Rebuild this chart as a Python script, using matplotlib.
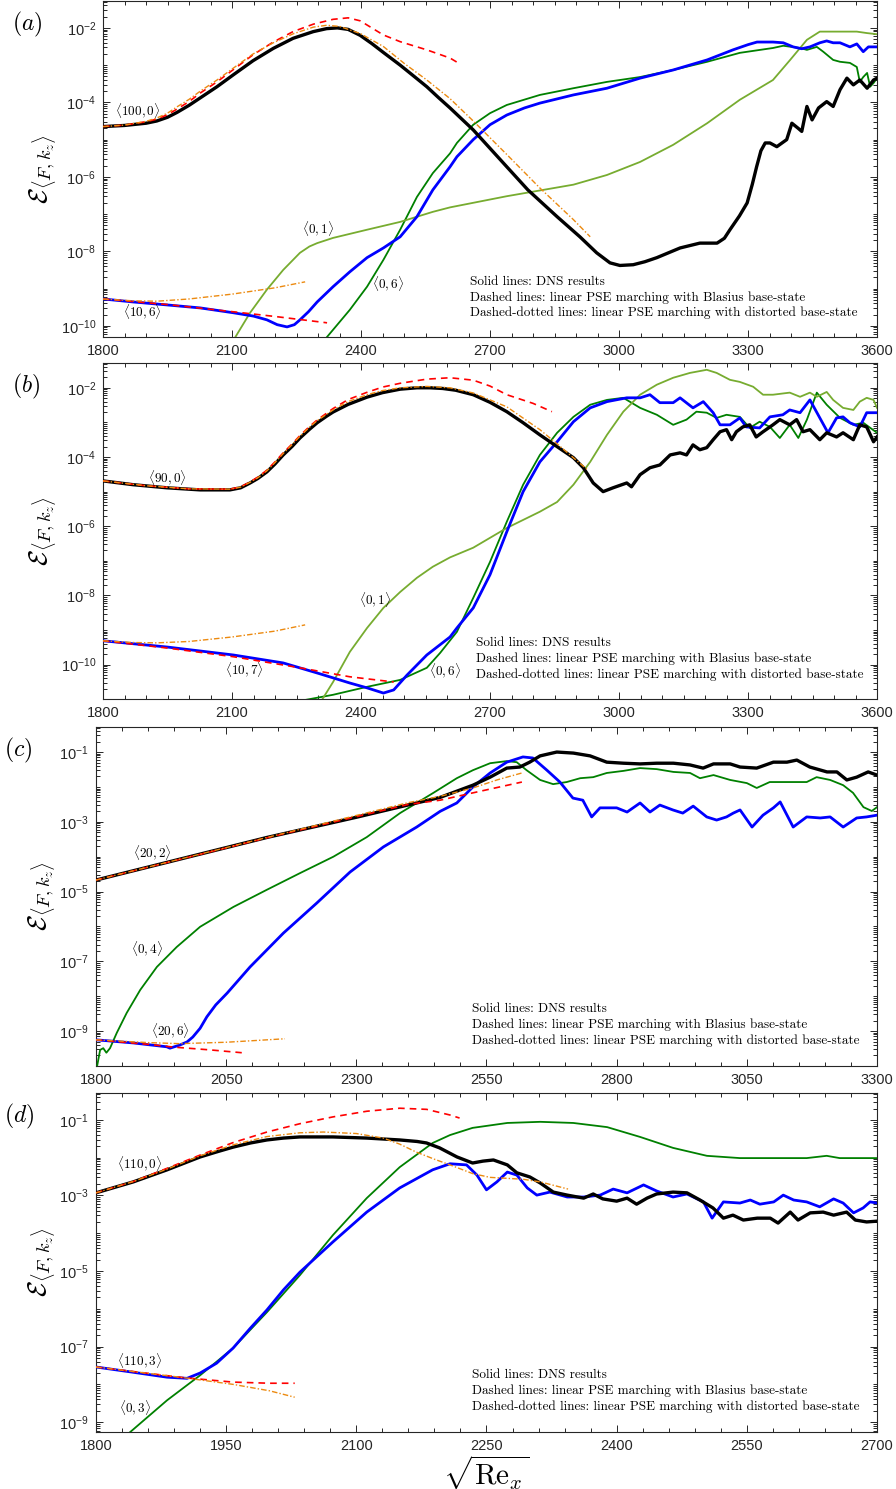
import numpy as np
import matplotlib
matplotlib.use('Agg')
import matplotlib.pyplot as plt
from matplotlib.ticker import FixedLocator, LogLocator, FuncFormatter, MultipleLocator, NullFormatter

plt.rcParams['font.family'] = ['Liberation Sans', 'DejaVu Sans']
plt.rcParams['mathtext.fontset'] = 'cm'

# ---------------- data: x = sqrt(Re_x), values are log10(E) ----------------
# panel (a)
A_K100_X = [1800, 1850, 1900, 1925, 1950, 1972, 2000, 2026, 2065, 2103, 2149, 2196, 2242, 2289, 2320, 2345,
            2370, 2398, 2425, 2452, 2491, 2520, 2553, 2580, 2607, 2661, 2739, 2788, 2856, 2909, 2948, 2979,
            3002, 3033, 3060, 3088, 3142, 3188, 3228, 3245, 3258, 3280, 3298, 3310, 3320, 3330, 3340, 3351,
            3367, 3390, 3402, 3417, 3425, 3437, 3449, 3464, 3483, 3498, 3514, 3530, 3545, 3560, 3577, 3592,
            3600]
A_K100_L = [-4.65, -4.62, -4.56, -4.50, -4.40, -4.27, -4.08, -3.88, -3.58, -3.26, -2.88, -2.55, -2.28, -2.10,
            -2.02, -2.00, -2.04, -2.20, -2.42, -2.66, -3.00, -3.27, -3.58, -3.87, -4.15, -4.74, -5.73, -6.35,
            -7.07, -7.61, -8.04, -8.31, -8.38, -8.36, -8.28, -8.17, -7.91, -7.78, -7.78, -7.65, -7.42, -7.05,
            -6.70, -6.20, -5.73, -5.30, -5.09, -5.09, -5.19, -5.00, -4.56, -4.70, -4.78, -4.11, -4.47, -4.15,
            -3.98, -4.11, -3.66, -3.35, -3.53, -3.40, -3.62, -3.40, -3.35]
A_K100_BL_X = [1800, 1850, 1900, 1925, 1950, 1972, 2000, 2026, 2065, 2103, 2149, 2196, 2242, 2289, 2335,
               2370, 2398, 2425, 2452, 2491, 2553, 2607, 2623]
A_K100_BL_L = [-4.65, -4.61, -4.52, -4.45, -4.33, -4.18, -3.98, -3.75, -3.45, -3.12, -2.72, -2.38, -2.10,
               -1.90, -1.77, -1.73, -1.81, -2.00, -2.19, -2.37, -2.59, -2.81, -2.92]
A_K100_DI_X = [1800, 1850, 1900, 1925, 1950, 1972, 2000, 2026, 2065, 2103, 2149, 2196, 2242, 2289, 2320,
               2350, 2398, 2452, 2500, 2553, 2607, 2661, 2739, 2816, 2894, 2933]
A_K100_DI_L = [-4.65, -4.61, -4.51, -4.42, -4.29, -4.12, -3.92, -3.70, -3.40, -3.08, -2.70, -2.40, -2.16,
               -1.98, -1.93, -1.96, -2.15, -2.50, -2.95, -3.40, -3.90, -4.50, -5.40, -6.30, -7.15, -7.61]
A_K106_X = [1800, 1870, 1949, 2026, 2103, 2150, 2181, 2205, 2228, 2245, 2258, 2278, 2298, 2335, 2374, 2414,
            2452, 2491, 2530, 2567, 2607, 2623, 2661, 2700, 2739, 2780, 2816, 2894, 2972, 3049, 3126, 3205,
            3265, 3300, 3321, 3358, 3382, 3405, 3425, 3444, 3467, 3483, 3498, 3514, 3537, 3553, 3568, 3580,
            3600]
A_K106_L = [-9.28, -9.36, -9.44, -9.52, -9.65, -9.74, -9.84, -9.97, -10.03, -9.97, -9.84, -9.62, -9.36,
            -8.95, -8.55, -8.17, -7.91, -7.61, -7.07, -6.35, -5.73, -5.46, -5.00, -4.60, -4.34, -4.15, -4.02,
            -3.80, -3.62, -3.35, -3.13, -2.86, -2.59, -2.45, -2.38, -2.38, -2.40, -2.51, -2.56, -2.51, -2.40,
            -2.35, -2.40, -2.40, -2.51, -2.43, -2.64, -2.51, -2.51]
A_K106_BL_X = [1800, 1950, 2100, 2200, 2321]
A_K106_BL_L = [-9.28, -9.43, -9.62, -9.75, -9.92]
A_K106_DI_X = [1800, 1870, 1925, 2000, 2100, 2200, 2270]
A_K106_DI_L = [-9.28, -9.33, -9.34, -9.28, -9.15, -8.98, -8.82]
A_K01_X = [2100, 2142, 2181, 2219, 2258, 2280, 2298, 2335, 2414, 2491, 2567, 2607, 2739, 2894, 2972, 3049,
           3126, 3205, 3281, 3358, 3398, 3437, 3467, 3514, 3553, 3577, 3600]
A_K01_L = [-10.45, -9.65, -9.03, -8.50, -8.04, -7.87, -7.78, -7.64, -7.42, -7.21, -6.94, -6.82, -6.52, -6.21,
           -5.95, -5.60, -5.14, -4.56, -3.93, -3.40, -2.86, -2.32, -2.10, -2.10, -2.10, -2.14, -2.17]
A_K06_X = [2310, 2374, 2414, 2452, 2491, 2530, 2567, 2607, 2623, 2661, 2700, 2739, 2816, 2894, 2972, 3049,
           3126, 3205, 3281, 3358, 3382, 3421, 3437, 3460, 3475, 3498, 3514, 3537, 3553, 3560, 3568, 3577,
           3584, 3592, 3600]
A_K06_L = [-10.45, -9.57, -8.95, -8.23, -7.42, -6.54, -5.90, -5.37, -5.09, -4.60, -4.29, -4.07, -3.80, -3.62,
           -3.45, -3.32, -3.13, -2.91, -2.67, -2.54, -2.48, -2.54, -2.59, -2.51, -2.64, -2.86, -2.91, -2.94,
           -3.05, -3.45, -3.32, -3.21, -3.58, -3.48, -3.35]

# panel (b)
B_K90_X = [1800, 1870, 1949, 2026, 2095, 2120, 2142, 2160, 2181, 2200, 2219, 2240, 2258, 2280, 2298, 2320,
           2335, 2370, 2414, 2450, 2491, 2530, 2560, 2590, 2620, 2661, 2700, 2739, 2777, 2816, 2856, 2894,
           2917, 2940, 2963, 2986, 3018, 3029, 3049, 3072, 3095, 3119, 3142, 3157, 3172, 3188, 3204, 3219,
           3235, 3250, 3262, 3273, 3288, 3304, 3319, 3335, 3358, 3374, 3397, 3413, 3428, 3444, 3467, 3483,
           3506, 3521, 3545, 3560, 3576, 3592, 3600]
B_K90_L = [-4.69, -4.80, -4.89, -4.95, -4.95, -4.89, -4.75, -4.62, -4.43, -4.20, -3.94, -3.69, -3.45, -3.20,
           -3.01, -2.82, -2.70, -2.48, -2.27, -2.14, -2.04, -2.00, -2.00, -2.02, -2.07, -2.20, -2.42, -2.69,
           -3.01, -3.36, -3.70, -4.02, -4.31, -4.75, -5.00, -4.89, -4.75, -4.86, -4.51, -4.31, -4.23, -3.94,
           -3.88, -3.94, -3.65, -3.79, -3.73, -3.50, -3.27, -3.21, -3.50, -3.27, -3.13, -3.07, -3.42, -3.27,
           -3.07, -2.92, -3.07, -2.92, -3.27, -3.21, -3.50, -3.30, -3.42, -3.30, -3.50, -3.07, -3.13, -3.56,
           -3.42]
B_K90_BL_X = [1800, 1900, 2000, 2095, 2120, 2142, 2160, 2181, 2200, 2219, 2240, 2258, 2280, 2298, 2335, 2370,
              2414, 2450, 2491, 2553, 2607, 2661, 2700, 2739, 2800, 2844]
B_K90_BL_L = [-4.69, -4.83, -4.92, -4.93, -4.86, -4.72, -4.58, -4.38, -4.14, -3.88, -3.62, -3.38, -3.12,
              -2.93, -2.60, -2.34, -2.13, -1.98, -1.87, -1.75, -1.71, -1.78, -1.95, -2.20, -2.45, -2.69]
B_K90_DI_X = [1800, 1900, 2000, 2095, 2120, 2142, 2160, 2181, 2200, 2219, 2240, 2258, 2280, 2298, 2335, 2370,
              2414, 2450, 2491, 2553, 2607, 2661, 2739, 2816, 2856, 2925]
B_K90_DI_L = [-4.69, -4.83, -4.92, -4.93, -4.87, -4.73, -4.60, -4.40, -4.16, -3.90, -3.64, -3.40, -3.14,
              -2.95, -2.64, -2.40, -2.20, -2.08, -2.00, -1.96, -2.00, -2.15, -2.55, -3.21, -3.62, -4.35]
B_K107_X = [1800, 1949, 2103, 2219, 2298, 2374, 2414, 2452, 2476, 2507, 2553, 2607, 2623, 2661, 2700, 2739,
            2777, 2816, 2856, 2894, 2933, 2972, 3018, 3049, 3072, 3095, 3126, 3142, 3172, 3196, 3219, 3235,
            3258, 3281, 3296, 3327, 3351, 3381, 3397, 3421, 3444, 3467, 3486, 3506, 3521, 3537, 3560, 3576,
            3600]
B_K107_L = [-9.31, -9.49, -9.72, -9.95, -10.24, -10.53, -10.67, -10.82, -10.73, -10.30, -9.72, -9.20, -8.94,
            -8.36, -7.40, -6.16, -5.00, -4.14, -3.56, -2.98, -2.58, -2.40, -2.29, -2.29, -2.20, -2.43, -2.43,
            -2.29, -2.58, -2.40, -2.72, -3.07, -3.07, -2.87, -3.13, -3.16, -2.84, -2.78, -2.64, -2.72, -2.35,
            -2.87, -3.30, -2.87, -2.84, -3.01, -3.13, -2.72, -2.72]
B_K107_BL_X = [1800, 1950, 2103, 2258, 2374, 2476]
B_K107_BL_L = [-9.31, -9.52, -9.77, -10.09, -10.35, -10.50]
B_K107_DI_X = [1800, 1870, 1925, 2000, 2100, 2200, 2270]
B_K107_DI_L = [-9.31, -9.36, -9.37, -9.33, -9.20, -9.03, -8.85]
B_K01_X = [2300, 2335, 2374, 2414, 2452, 2491, 2530, 2567, 2607, 2661, 2739, 2816, 2856, 2894, 2933, 2972,
           3010, 3049, 3088, 3126, 3165, 3204, 3227, 3258, 3281, 3312, 3335, 3358, 3397, 3421, 3444, 3460,
           3483, 3498, 3521, 3545, 3560, 3576, 3592, 3600]
B_K01_L = [-11.2, -10.50, -9.63, -8.94, -8.36, -7.90, -7.49, -7.17, -6.90, -6.62, -6.05, -5.58, -5.30, -4.80,
           -4.14, -3.36, -2.69, -2.20, -1.91, -1.71, -1.57, -1.48, -1.57, -1.77, -1.83, -1.97, -2.20, -2.20,
           -2.14, -2.26, -2.14, -2.26, -2.12, -2.35, -2.58, -2.64, -2.40, -2.29, -2.35, -2.58]
B_K06_X = [2270, 2335, 2414, 2491, 2553, 2584, 2623, 2661, 2700, 2739, 2777, 2816, 2856, 2894, 2933, 2972,
           3010, 3049, 3088, 3126, 3157, 3180, 3204, 3227, 3250, 3281, 3304, 3327, 3351, 3374, 3397, 3417,
           3437, 3460, 3483, 3514, 3545, 3568, 3600]
B_K06_L = [-11.02, -10.87, -10.64, -10.44, -10.09, -9.66, -9.05, -8.07, -7.03, -5.87, -4.80, -3.94, -3.30,
           -2.84, -2.49, -2.35, -2.29, -2.58, -2.78, -3.07, -2.92, -2.69, -2.72, -2.87, -2.78, -2.84, -3.16,
           -2.98, -3.13, -3.45, -3.07, -3.45, -2.92, -2.14, -2.49, -2.87, -3.07, -3.01, -3.30]

# panel (c)
C_K202_X = [1800, 2128, 2300, 2461, 2524, 2557, 2589, 2614, 2633, 2653, 2685, 2717, 2749, 2781, 2813, 2845,
            2877, 2909, 2941, 2966, 2986, 3018, 3037, 3069, 3101, 3127, 3146, 3171, 3204, 3223, 3242, 3261,
            3283, 3300]
C_K202_L = [-4.67, -3.45, -2.87, -2.30, -1.95, -1.72, -1.46, -1.43, -1.29, -1.11, -1.00, -1.03, -1.11, -1.29,
            -1.32, -1.34, -1.32, -1.32, -1.37, -1.46, -1.34, -1.34, -1.43, -1.46, -1.29, -1.29, -1.23, -1.43,
            -1.57, -1.57, -1.80, -1.72, -1.57, -1.66]
C_K202_BL_X = [1800, 2128, 2400, 2461, 2524, 2618]
C_K202_BL_L = [-4.67, -3.46, -2.50, -2.38, -2.17, -1.86]
C_K202_DI_X = [1800, 2128, 2400, 2461, 2524, 2570, 2618]
C_K202_DI_L = [-4.67, -3.45, -2.45, -2.27, -2.03, -1.80, -1.60]
C_K206_X = [1800, 1872, 1936, 1942, 1961, 1975, 1986, 2000, 2013, 2030, 2052, 2096, 2160, 2224, 2288, 2352,
            2416, 2461, 2493, 2524, 2557, 2589, 2620, 2639, 2666, 2691, 2716, 2735, 2752, 2768, 2800, 2820,
            2845, 2864, 2883, 2908, 2927, 2947, 2973, 2992, 3011, 3024, 3037, 3060, 3081, 3101, 3114, 3139,
            3165, 3191, 3210, 3235, 3261, 3280, 3300]
C_K206_L = [-9.25, -9.34, -9.45, -9.49, -9.40, -9.31, -9.17, -8.92, -8.59, -8.25, -7.91, -7.16, -6.19, -5.33,
            -4.44, -3.72, -3.15, -2.70, -2.46, -2.00, -1.60, -1.29, -1.14, -1.17, -1.52, -1.86, -2.32, -2.38,
            -2.86, -2.60, -2.60, -2.72, -2.46, -2.72, -2.52, -2.66, -2.75, -2.55, -2.86, -2.95, -2.86, -2.75,
            -2.66, -3.15, -2.81, -2.60, -2.43, -3.15, -2.86, -2.89, -2.86, -3.15, -2.89, -2.86, -2.81]
C_K206_BL_X = [1800, 1900, 1950, 2020, 2080]
C_K206_BL_L = [-9.25, -9.38, -9.46, -9.54, -9.62]
C_K206_DI_X = [1800, 1900, 1960, 2050, 2163]
C_K206_DI_L = [-9.25, -9.33, -9.36, -9.32, -9.22]
C_K04_X = [1801, 1808, 1814, 1820, 1827, 1840, 1859, 1885, 1917, 1955, 2000, 2064, 2128, 2192, 2256, 2320,
           2384, 2448, 2493, 2524, 2557, 2589, 2608, 2627, 2653, 2678, 2704, 2730, 2755, 2781, 2813, 2845,
           2877, 2909, 2941, 2960, 2986, 3018, 3050, 3069, 3094, 3133, 3165, 3184, 3210, 3235, 3254, 3274,
           3290, 3300]
C_K04_L = [-10.1, -9.54, -9.49, -9.62, -9.49, -9.05, -8.48, -7.82, -7.16, -6.59, -6.01, -5.44, -4.95, -4.47,
           -4.00, -3.44, -2.75, -2.17, -1.75, -1.52, -1.32, -1.26, -1.29, -1.52, -1.80, -1.92, -1.86, -1.75,
           -1.72, -1.60, -1.54, -1.46, -1.49, -1.57, -1.60, -1.75, -1.66, -1.80, -1.89, -2.03, -1.86, -1.86,
           -1.86, -1.72, -1.80, -1.95, -2.17, -2.58, -2.69, -2.58]

# panel (d)
D_K1100_X = [1800, 1843, 1882, 1920, 1940, 1958, 1978, 1997, 2016, 2035, 2073, 2112, 2150, 2170, 2181, 2196,
             2216, 2234, 2246, 2258, 2274, 2285, 2300, 2312, 2327, 2343, 2362, 2373, 2384, 2400, 2412, 2423,
             2435, 2446, 2465, 2481, 2496, 2511, 2523, 2534, 2546, 2562, 2577, 2586, 2600, 2609, 2623, 2638,
             2650, 2665, 2675, 2688, 2700]
D_K1100_L = [-2.93, -2.64, -2.32, -1.98, -1.84, -1.72, -1.61, -1.53, -1.48, -1.45, -1.45, -1.48, -1.53, -1.57,
             -1.61, -1.74, -1.98, -2.14, -2.09, -2.06, -2.19, -2.40, -2.51, -2.67, -2.91, -2.99, -3.07, -2.96,
             -3.09, -3.15, -3.07, -3.23, -3.07, -2.96, -2.91, -2.93, -3.12, -3.33, -3.60, -3.52, -3.65, -3.60,
             -3.60, -3.73, -3.44, -3.65, -3.46, -3.44, -3.52, -3.44, -3.65, -3.70, -3.68]
D_K1100_BL_X = [1800, 1843, 1882, 1920, 1958, 1997, 2035, 2073, 2112, 2150, 2181, 2208, 2219]
D_K1100_BL_L = [-2.93, -2.63, -2.28, -1.93, -1.60, -1.32, -1.10, -0.92, -0.77, -0.69, -0.72, -0.87, -0.95]
D_K1100_DI_X = [1800, 1843, 1882, 1920, 1958, 1997, 2035, 2062, 2100, 2131, 2150, 2169, 2190, 2208, 2234,
                2254, 2292, 2312, 2344]
D_K1100_DI_L = [-2.93, -2.63, -2.30, -1.95, -1.66, -1.44, -1.34, -1.32, -1.36, -1.48, -1.64, -1.85, -2.04,
                -2.19, -2.42, -2.52, -2.57, -2.64, -2.83]
D_K1103_X = [1800, 1843, 1882, 1905, 1920, 1939, 1958, 1978, 1997, 2016, 2035, 2073, 2112, 2150, 2188, 2208,
             2227, 2239, 2250, 2262, 2274, 2285, 2297, 2308, 2323, 2343, 2362, 2381, 2396, 2412, 2431, 2446,
             2465, 2481, 2500, 2510, 2523, 2542, 2554, 2565, 2581, 2592, 2604, 2619, 2634, 2650, 2661, 2673,
             2684, 2692, 2700]
D_K1103_L = [-7.54, -7.68, -7.81, -7.84, -7.70, -7.44, -7.04, -6.51, -6.03, -5.50, -5.03, -4.23, -3.44, -2.80,
             -2.32, -2.16, -2.19, -2.46, -2.85, -2.64, -2.38, -2.46, -2.80, -2.99, -2.91, -3.04, -3.04, -2.99,
             -2.83, -2.93, -2.72, -2.88, -3.04, -2.96, -3.17, -3.60, -3.17, -3.20, -3.12, -3.23, -3.17, -2.99,
             -3.12, -3.17, -3.30, -3.09, -3.20, -3.46, -3.33, -3.17, -3.20]
D_K1103_BL_X = [1800, 1850, 1900, 1958, 2000, 2029]
D_K1103_BL_L = [-7.54, -7.68, -7.82, -7.94, -7.97, -7.97]
D_K1103_DI_X = [1800, 1850, 1900, 1958, 2000, 2029]
D_K1103_DI_L = [-7.54, -7.68, -7.82, -8.00, -8.17, -8.34]
D_K03_X = [1835, 1882, 1920, 1958, 1997, 2035, 2073, 2112, 2150, 2188, 2208, 2234, 2274, 2312, 2350, 2389,
           2427, 2465, 2504, 2542, 2580, 2619, 2642, 2657, 2677, 2700]
D_K03_L = [-9.35, -8.42, -7.76, -7.04, -6.09, -5.11, -4.05, -3.07, -2.25, -1.61, -1.40, -1.21, -1.08, -1.05,
           -1.08, -1.19, -1.45, -1.74, -1.95, -2.01, -2.01, -2.01, -1.95, -2.01, -2.01, -2.01]

NOTE = ['Solid lines: DNS results',
        'Dashed lines: linear PSE marching with Blasius base-state',
        'Dashed-dotted lines: linear PSE marching with distorted base-state']

BLACK, BLUE, RED = 'k', '#0000ff', '#ff0000'
ORANGE, DGREEN, LGREEN = '#ec8a10', '#008000', '#77ac30'


def line(ax, x, lg, kind):
    y = 10.0 ** np.asarray(lg)
    if kind == 'black':
        ax.plot(x, y, color=BLACK, lw=2.4, zorder=4)
    elif kind == 'blue':
        ax.plot(x, y, color=BLUE, lw=2.0, zorder=4)
    elif kind == 'dgreen':
        ax.plot(x, y, color=DGREEN, lw=1.3, zorder=3)
    elif kind == 'lgreen':
        ax.plot(x, y, color=LGREEN, lw=1.3, zorder=3)
    elif kind == 'red':
        ax.plot(x, y, color=RED, lw=1.2, dashes=(4, 3), zorder=5)
    elif kind == 'orange':
        ax.plot(x, y, color=ORANGE, lw=1.0, dashes=(4, 1.5, 1, 1.5), zorder=6)


def setup(ax, xlim, xstep, xminor, ylim, yeven, letter, note_xy):
    ax.set_yscale('log')
    ax.set_xlim(*xlim)
    ax.set_ylim(10.0 ** ylim[0], 10.0 ** ylim[1])
    ax.set_xticks(np.arange(xlim[0], xlim[1] + 1, xstep))
    ax.xaxis.set_minor_locator(MultipleLocator(xminor))
    ax.yaxis.set_major_locator(FixedLocator([10.0 ** e for e in yeven]))
    ax.yaxis.set_major_formatter(FuncFormatter(
        lambda v, p: r'$\mathdefault{10^{%d}}$' % int(round(np.log10(v)))))
    ax.yaxis.set_minor_locator(LogLocator(base=10, subs=np.arange(1, 10), numticks=60))
    ax.yaxis.set_minor_formatter(NullFormatter())
    ax.tick_params(which='both', direction='in', top=True, right=True, labelsize=10.5,
                   width=0.7, colors='#262626')
    ax.tick_params(which='major', length=5, pad=5)
    ax.tick_params(which='minor', length=3)
    for s in ax.spines.values():
        s.set_linewidth(0.8)
        s.set_color('#262626')
    ax.set_ylabel(r'$\mathcal{E}_{\langle F,k_z\rangle}$', fontsize=19, labelpad=1)
    ax.text(-0.118, 0.93, r'$(%s)$' % letter, transform=ax.transAxes, fontsize=17,
            ha='left', va='center')
    for i, s in enumerate(NOTE):
        ax.text(note_xy[0], note_xy[1] - i * 0.047, s, transform=ax.transAxes,
                family='cmr10', fontsize=9.5, ha='left', va='center')


def lab(ax, x, lg, s):
    ax.text(x, 10.0 ** lg, s, fontsize=9.5, ha='center', va='center', zorder=7)


fig = plt.figure(figsize=(8.96, 14.89), dpi=100)
ax_a = fig.add_axes([0.1150, 0.7737, 0.8638, 0.2257])
ax_b = fig.add_axes([0.1150, 0.5306, 0.8638, 0.2257])
ax_c = fig.add_axes([0.1071, 0.2841, 0.8717, 0.2277])
ax_d = fig.add_axes([0.1071, 0.0383, 0.8717, 0.2277])

# (a)
ax = ax_a
line(ax, A_K06_X, A_K06_L, 'dgreen')
line(ax, A_K01_X, A_K01_L, 'lgreen')
line(ax, A_K106_X, A_K106_L, 'blue')
line(ax, A_K100_X, A_K100_L, 'black')
line(ax, A_K100_BL_X, A_K100_BL_L, 'red')
line(ax, A_K106_BL_X, A_K106_BL_L, 'red')
line(ax, A_K100_DI_X, A_K100_DI_L, 'orange')
line(ax, A_K106_DI_X, A_K106_DI_L, 'orange')
setup(ax, (1800, 3600), 300, 50, (-10.30, -1.275), [-10, -8, -6, -4, -2], 'a', (0.474, 0.165))
lab(ax, 1881, -4.25, r'$\langle 100,0\rangle$')
lab(ax, 1891, -9.65, r'$\langle 10,6\rangle$')
lab(ax, 2300, -7.42, r'$\langle 0,1\rangle$')
lab(ax, 2463, -8.90, r'$\langle 0,6\rangle$')

# (b)
ax = ax_b
line(ax, B_K06_X, B_K06_L, 'dgreen')
line(ax, B_K01_X, B_K01_L, 'lgreen')
line(ax, B_K107_X, B_K107_L, 'blue')
line(ax, B_K90_X, B_K90_L, 'black')
line(ax, B_K90_BL_X, B_K90_BL_L, 'red')
line(ax, B_K107_BL_X, B_K107_BL_L, 'red')
line(ax, B_K90_DI_X, B_K90_DI_L, 'orange')
line(ax, B_K107_DI_X, B_K107_DI_L, 'orange')
setup(ax, (1800, 3600), 300, 50, (-10.99, -1.28), [-10, -8, -6, -4, -2], 'b', (0.482, 0.167))
lab(ax, 1949, -4.63, r'$\langle 90,0\rangle$')
lab(ax, 2130, -10.18, r'$\langle 10,7\rangle$')
lab(ax, 2432, -8.13, r'$\langle 0,1\rangle$')
lab(ax, 2595, -10.20, r'$\langle 0,6\rangle$')

# (c)
ax = ax_c
line(ax, C_K04_X, C_K04_L, 'dgreen')
line(ax, C_K206_X, C_K206_L, 'blue')
line(ax, C_K202_X, C_K202_L, 'black')
line(ax, C_K202_BL_X, C_K202_BL_L, 'red')
line(ax, C_K206_BL_X, C_K206_BL_L, 'red')
line(ax, C_K202_DI_X, C_K202_DI_L, 'orange')
line(ax, C_K206_DI_X, C_K206_DI_L, 'orange')
setup(ax, (1800, 3300), 250, 50, (-10.0, -0.28), [-9, -7, -5, -3, -1], 'c', (0.482, 0.168))
lab(ax, 1909, -3.92, r'$\langle 20,2\rangle$')
lab(ax, 1898, -6.67, r'$\langle 0,4\rangle$')
lab(ax, 1944, -9.00, r'$\langle 20,6\rangle$')

# (d)
ax = ax_d
line(ax, D_K03_X, D_K03_L, 'dgreen')
line(ax, D_K1103_X, D_K1103_L, 'blue')
line(ax, D_K1100_X, D_K1100_L, 'black')
line(ax, D_K1100_BL_X, D_K1100_BL_L, 'red')
line(ax, D_K1103_BL_X, D_K1103_BL_L, 'red')
line(ax, D_K1100_DI_X, D_K1100_DI_L, 'orange')
line(ax, D_K1103_DI_X, D_K1103_DI_L, 'orange')
setup(ax, (1800, 2700), 150, 30, (-9.26, -0.285), [-9, -7, -5, -3, -1], 'd', (0.482, 0.168))
lab(ax, 1850, -2.17, r'$\langle 110,0\rangle$')
lab(ax, 1850, -7.38, r'$\langle 110,3\rangle$')
lab(ax, 1845, -8.63, r'$\langle 0,3\rangle$')
ax.set_xlabel(r'$\sqrt{\mathrm{Re}_x}$', fontsize=21, labelpad=0)

fig.savefig('out.png', dpi=100)
